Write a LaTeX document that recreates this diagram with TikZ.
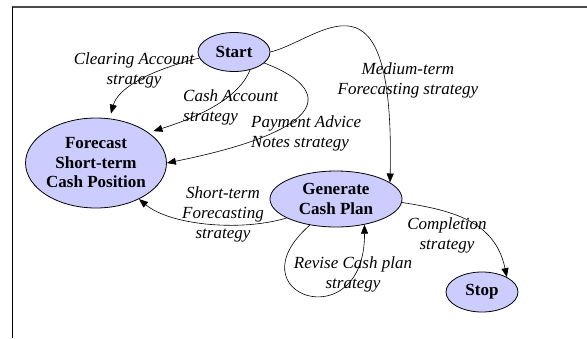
\documentclass[tikz,border=0pt]{standalone}
\usepackage{fontspec}
\setmainfont{Liberation Serif}
\usetikzlibrary{shapes.geometric,arrows.meta}
\definecolor{lavender}{RGB}{204,204,255}
\tikzset{
  state/.style={ellipse, draw, thick, fill=lavender, inner sep=0pt, align=center,
    font=\rmfamily\fontsize{17}{19.5}\selectfont\bfseries},
  lbl/.style={inner sep=0pt, align=center, font=\rmfamily\fontsize{17}{20}\selectfont\itshape},
  edge/.style={-{Triangle[length=9pt,width=7pt]}, semithick}
}
\begin{document}
\begin{tikzpicture}[x=1pt,y=-1pt]
            \useasboundingbox (0,0) rectangle (587,338);
            \draw [gray!60!black, line width=1.2pt](12,7) -- (587,7);
            \draw [line width=1pt](12,7) -- (12,338);
            % states
            \node [state, minimum width=72pt, minimum height=39pt] (start) at (234,52) {Start};
            \node [state, minimum width=122pt, minimum height=90pt] (forecast) at (96,163) {Forecast\\Short-term\\Cash Position};
            \node [state, minimum width=132pt, minimum height=56pt] (generate) at (336,199) {Generate\\Cash Plan};
            \node [state, minimum width=72pt, minimum height=40pt] (stop) at (482,292) {Stop};
            % transitions
            \draw [edge, shorten >=5pt](start.190) .. controls (150,70) and (118,88) .. (forecast.73);
            \draw [edge, shorten >=5pt](start.-48) .. controls (238,100) and (195,118) .. (forecast.30);
            \draw [edge](start.-20) .. controls (335,90) and (330,130) .. (forecast.east);
            \draw [edge](start.east) .. controls (320,40) and (395,-45) .. (generate.17);
            \draw [edge](generate.201) .. controls (240,232) and (170,225) .. (forecast.-40);
            \draw [edge](generate.225) .. controls (230,295) and (365,340) .. (generate.-42);
            \draw [edge](generate.-3) .. controls (450,210) and (495,220) .. (stop.31);
            % strategies
            \node [lbl] (clearing) at (134,70.5) {Clearing Account\\strategy};
            \node [lbl, align=left, anchor=west] (cash) at (183,107.5) {Cash Account\\strategy};
            \node [lbl, align=left, anchor=west] (advice) at (251,133.5) {Payment Advice\\Notes strategy};
            \node [lbl] (medium) at (408,80.5) {Medium-term\\Forecasting strategy};
            \node [lbl] (short) at (223,214.5) {Short-term\\Forecasting\\strategy};
            \node [lbl] (revise) at (353,274) {Revise Cash plan\\strategy};
            \node [lbl] (completion) at (447,235.5) {Completion\\strategy};
        \end{tikzpicture}
\end{document}
